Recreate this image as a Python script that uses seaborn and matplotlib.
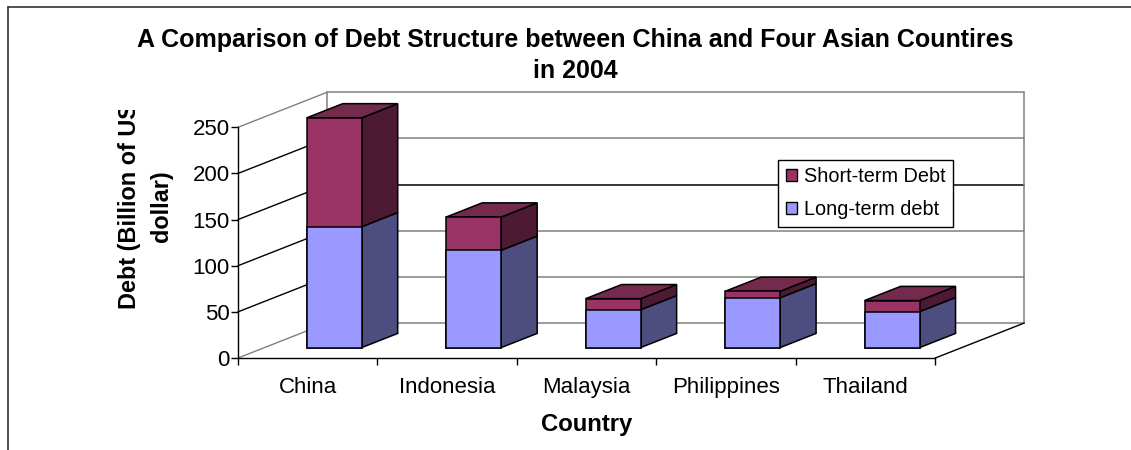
import numpy as np
import matplotlib
matplotlib.use("Agg")
import matplotlib.pyplot as plt
from matplotlib.lines import Line2D
from matplotlib.patches import Patch
from matplotlib.transforms import Bbox
import seaborn as sns

countries = ["China", "Indonesia", "Malaysia", "Philippines", "Thailand"]
long_term = [131, 105.5, 41, 54, 39]
short_term = [118, 36, 12, 7, 12]
value_ticks = [0, 50, 100, 150, 200, 250]

LONG_FRONT, LONG_SIDE = "#9999FF", "#4D4D80"
SHORT_FRONT, SHORT_SIDE, SHORT_TOP = "#993366", "#4D1A33", "#732A4D"
GREY = "#808080"
side_grid = {0: GREY, 50: "black", 100: "black", 150: "black", 200: "black", 250: GREY}
back_grid = {0: GREY, 50: GREY, 100: GREY, 150: "black", 200: GREY, 250: GREY}

# Oblique projection: depth of the chart box, in axis units
DEPTH_X, DEPTH_Y = 0.638, 37.9
BAR_WIDTH = 0.394
BAR_DEPTH = 0.405
BAR_NEAR = (1 - BAR_DEPTH) / 2

sns.set_style("white")
plt.rcParams["font.family"] = ["Liberation Sans", "DejaVu Sans"]
plt.rcParams["text.color"] = "black"
plt.rcParams["xtick.labelcolor"] = "black"
plt.rcParams["ytick.labelcolor"] = "black"
W, H = 1131, 450
fig = plt.figure(figsize=(W / 100, H / 100), dpi=100)
ax = fig.add_axes([238 / W, 1 - 358 / H, (935.3 - 238) / W, (358 - 127.3) / H])

long_arr = np.array(long_term, dtype=float)
short_arr = np.array(short_term, dtype=float)
totals = long_arr + short_arr

# Front faces: totals first, long-term drawn over them gives the stack
sns.barplot(x=countries, y=totals, color=SHORT_FRONT, saturation=1, width=BAR_WIDTH,
            edgecolor="black", linewidth=1.1, ax=ax, zorder=4)
sns.barplot(x=countries, y=long_arr, color=LONG_FRONT, saturation=1, width=BAR_WIDTH,
            edgecolor="black", linewidth=1.1, ax=ax, zorder=5)
for patch in ax.patches:
    patch.set_x(patch.get_x() + BAR_NEAR * DEPTH_X)
    patch.set_y(BAR_NEAR * DEPTH_Y)
    patch.set_clip_on(False)


def at_depth(x, y, d):
    return x + d * DEPTH_X, y + d * DEPTH_Y


def face(points, color, z):
    xs, ys = zip(*points)
    ax.fill(xs, ys, facecolor=color, edgecolor="black", linewidth=1.1,
            clip_on=False, zorder=z)


# Side and top faces of each stacked box
far = BAR_NEAR + BAR_DEPTH
for i, (lo, total) in enumerate(zip(long_arr, totals)):
    left, right = i - BAR_WIDTH / 2, i + BAR_WIDTH / 2
    face([at_depth(right, 0, BAR_NEAR), at_depth(right, lo, BAR_NEAR),
          at_depth(right, lo, far), at_depth(right, 0, far)], LONG_SIDE, 3)
    face([at_depth(right, lo, BAR_NEAR), at_depth(right, total, BAR_NEAR),
          at_depth(right, total, far), at_depth(right, lo, far)], SHORT_SIDE, 3)
    face([at_depth(left, total, BAR_NEAR), at_depth(right, total, BAR_NEAR),
          at_depth(right, total, far), at_depth(left, total, far)], SHORT_TOP, 3)

# Chart box: side wall, back wall and floor
x0, x1 = -0.5, len(countries) - 0.5
for v in value_ticks:
    ax.plot([x0, x0 + DEPTH_X], [v, v + DEPTH_Y], color=side_grid[v], lw=1.0,
            clip_on=False, zorder=1)
    ax.plot([x0 + DEPTH_X, x1 + DEPTH_X], [v + DEPTH_Y, v + DEPTH_Y], color=back_grid[v],
            lw=1.1, clip_on=False, zorder=1)
top = value_ticks[-1] + DEPTH_Y
for x_wall in (x0 + DEPTH_X, x1 + DEPTH_X):
    ax.plot([x_wall, x_wall], [DEPTH_Y, top], color=GREY, lw=1.1, clip_on=False, zorder=1)
ax.plot([x1, x1 + DEPTH_X], [0, DEPTH_Y], color="black", lw=1.0, clip_on=False, zorder=1)

ax.set_xlim(x0, x1)
ax.set_ylim(0, 250)
sns.despine(ax=ax)
for side in ("left", "bottom"):
    ax.spines[side].set_color("black")
    ax.spines[side].set_linewidth(1.0)

ax.set_yticks(value_ticks)
ax.tick_params(axis="y", left=True, length=5, width=1, labelsize=16, pad=1, color="black")
ax.set_xticks(np.arange(x0, x1 + 1), labels=[""] * (len(countries) + 1))
ax.set_xticks(range(len(countries)), labels=countries, minor=True)
ax.tick_params(axis="x", which="major", bottom=True, length=5, width=1, color="black")
ax.tick_params(axis="x", which="minor", bottom=False, length=0, labelsize=16, pad=14)

ax.set_xlabel("")
ax.set_ylabel("")
fig.text(587 / W, 1 - 425 / H, "Country", fontsize=17.2, fontweight="bold",
         ha="center", va="center")

# The value-axis label runs out of its slot and is cut at the top
ylab = fig.text(145.5 / W, 1 - 206.5 / H, "Debt (Billion of US\ndollar)", fontsize=16.9,
                fontweight="bold", rotation=90, ha="center", va="center",
                multialignment="center", linespacing=1.45)
ylab.set_clip_box(Bbox([[0, 0], [W, H - 110]]))
ylab.set_clip_on(True)

fig.suptitle("A Comparison of Debt Structure between China and Four Asian Countires\nin 2004",
             x=575 / W, y=1 - 55.5 / H, fontsize=18, fontweight="bold", va="center",
             linespacing=1.42)

handles = [Patch(facecolor=SHORT_FRONT, edgecolor="black", lw=1),
           Patch(facecolor=LONG_FRONT, edgecolor="black", lw=1)]
leg = fig.legend(handles, ["Short-term Debt", "Long-term debt"], loc="lower left",
                 bbox_to_anchor=(778 / W, 1 - 226.7 / H), borderaxespad=0, fontsize=14.3,
                 fancybox=False, framealpha=1, edgecolor="black", handlelength=0.56,
                 handleheight=0.56, handletextpad=0.36, labelspacing=0.7, borderpad=0.38)
leg.get_frame().set_linewidth(1)
leg.set_zorder(10)

# Outer chart frame
fig.add_artist(Line2D([8 / W, 1], [1 - 6.5 / H, 1 - 6.5 / H], color="#333333", lw=1.2))
fig.add_artist(Line2D([8 / W, 8 / W], [0, 1 - 6.5 / H], color="#333333", lw=1.2))

fig.savefig("out.png", dpi=100)
